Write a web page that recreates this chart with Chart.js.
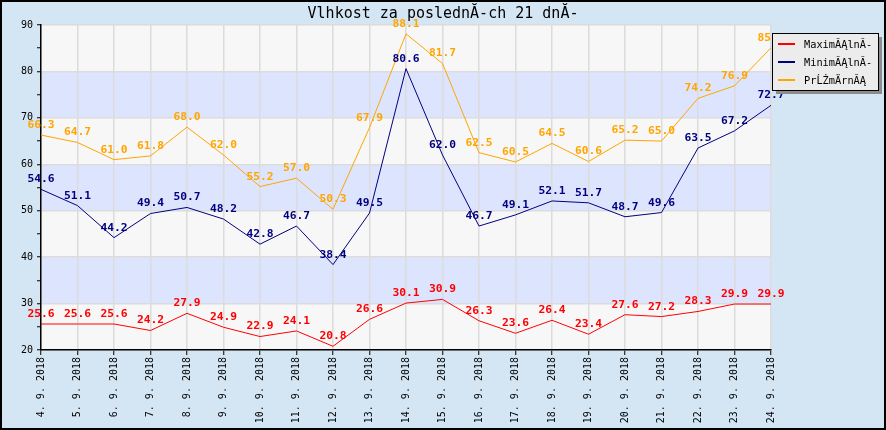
<!DOCTYPE html>
<html>
<head>
<meta charset="utf-8">
<script src="https://cdn.jsdelivr.net/npm/chart.js@4.4.1/dist/chart.umd.min.js"></script>
<style>
  html, body { margin: 0; padding: 0; background: #d4e6f4; }
  canvas { display: block; }
</style>
</head>
<body>
<canvas id="chart" width="886" height="430"></canvas>
<script>
// data
const title = 'Vlhkost za poslednĂ-ch 21 dnĂ-';
const days = ['4. 9. 2018', '5. 9. 2018', '6. 9. 2018', '7. 9. 2018', '8. 9. 2018',
    '9. 9. 2018', '10. 9. 2018', '11. 9. 2018', '12. 9. 2018', '13. 9. 2018',
    '14. 9. 2018', '15. 9. 2018', '16. 9. 2018', '17. 9. 2018', '18. 9. 2018',
    '19. 9. 2018', '20. 9. 2018', '21. 9. 2018', '22. 9. 2018', '23. 9. 2018',
    '24. 9. 2018'];
const maxValues = [25.6, 25.6, 25.6, 24.2, 27.9, 24.9, 22.9, 24.1, 20.8, 26.6, 30.1,
    30.9, 26.3, 23.6, 26.4, 23.4, 27.6, 27.2, 28.3, 29.9, 29.9];
const minValues = [54.6, 51.1, 44.2, 49.4, 50.7, 48.2, 42.8, 46.7, 38.4, 49.5, 80.6,
    62.0, 46.7, 49.1, 52.1, 51.7, 48.7, 49.6, 63.5, 67.2, 72.7];
const avgValues = [66.3, 64.7, 61.0, 61.8, 68.0, 62.0, 55.2, 57.0, 50.3, 67.9, 88.1,
    81.7, 62.5, 60.5, 64.5, 60.6, 65.2, 65.0, 74.2, 76.9, 85.1];
const seriesNames = ['MaximĂĄlnĂ-', 'MinimĂĄlnĂ-', 'PrĹŻmÄrnĂĄ'];
const yMin = 20;
const yMax = 90;

const MONO = '"DejaVu Sans Mono", monospace';

// page background, border and striped plot area
const backdrop = {
    id: 'backdrop',
    beforeDraw(chart) {
        const ctx = chart.ctx;
        const area = chart.chartArea;
        const y = chart.scales.y;
        ctx.save();
        ctx.fillStyle = '#d4e6f4';
        ctx.fillRect(0, 0, chart.width, chart.height);
        for (let v = yMin; v < yMax; v += 10) {
            const top = y.getPixelForValue(v + 10);
            const bottom = y.getPixelForValue(v);
            ctx.fillStyle = ((v - yMin) / 10) % 2 === 0 ? '#f7f7f7' : '#dde5fe';
            ctx.fillRect(area.left, top, area.right - area.left, bottom - top);
        }
        ctx.restore();
    },
    afterDraw(chart) {
        const ctx = chart.ctx;
        ctx.save();
        ctx.strokeStyle = '#000';
        ctx.lineWidth = 2;
        ctx.strokeRect(1, 1, chart.width - 2, chart.height - 2);

        ctx.fillStyle = '#000';
        ctx.font = '15px ' + MONO;
        ctx.textAlign = 'center';
        ctx.textBaseline = 'middle';
        ctx.fillText(title, 443, 14);
        ctx.restore();
    }
};

// value labels above every point
const pointLabels = {
    id: 'pointLabels',
    afterDatasetsDraw(chart) {
        const ctx = chart.ctx;
        ctx.save();
        ctx.font = 'bold 11.3px ' + MONO;
        ctx.textAlign = 'center';
        ctx.textBaseline = 'middle';
        chart.data.datasets.forEach((ds, i) => {
            const meta = chart.getDatasetMeta(i);
            ctx.fillStyle = ds.borderColor;
            meta.data.forEach((pt, j) => {
                ctx.fillText(ds.data[j].toFixed(1), pt.x, pt.y - 10);
            });
        });
        ctx.restore();
    }
};

// boxed legend sitting over the top right corner
const boxLegend = {
    id: 'boxLegend',
    afterDraw(chart) {
        const ctx = chart.ctx;
        const x = 772, y = 33, w = 106, h = 57;
        ctx.save();
        ctx.fillStyle = '#8c8c8c';
        ctx.fillRect(x + 4, y + 4, w, h);
        ctx.fillStyle = '#ececec';
        ctx.fillRect(x, y, w, h);
        ctx.strokeStyle = '#000';
        ctx.lineWidth = 1;
        ctx.strokeRect(x + 0.5, y + 0.5, w, h);
        ctx.font = '10.3px ' + MONO;
        ctx.textBaseline = 'middle';
        chart.data.datasets.forEach((ds, i) => {
            const rowY = y + 11 + i * 18;
            ctx.strokeStyle = ds.borderColor;
            ctx.lineWidth = 2;
            ctx.beginPath();
            ctx.moveTo(x + 6, rowY);
            ctx.lineTo(x + 23, rowY);
            ctx.stroke();
            ctx.fillStyle = '#000';
            ctx.fillText(ds.label, x + 32, rowY + 1);
        });
        ctx.restore();
    }
};

const series = [
    { label: seriesNames[0], data: maxValues, color: '#ff0000' },
    { label: seriesNames[1], data: minValues, color: '#000080' },
    { label: seriesNames[2], data: avgValues, color: '#ffa500' }
];

new Chart(document.getElementById('chart'), {
    type: 'line',
    data: {
        labels: days,
        datasets: series.map(s => ({
            label: s.label,
            data: s.data,
            borderColor: s.color,
            backgroundColor: s.color,
            borderWidth: 1,
            pointRadius: 0,
            tension: 0,
            fill: false
        }))
    },
    options: {
        responsive: false,
        animation: false,
        devicePixelRatio: 1,
        layout: { padding: { top: 25, right: 115, left: 0, bottom: 0 } },
        plugins: {
            legend: { display: false },
            title: { display: false },
            tooltip: { enabled: false }
        },
        scales: {
            x: {
                offset: false,
                afterFit(scale) {
                    scale.height = 80;
                    scale.paddingLeft = 0;
                    scale.paddingRight = 0;
                },
                grid: {
                    color: '#dcdcdc',
                    lineWidth: 1.5,
                    tickColor: '#000',
                    tickLength: 5,
                    tickWidth: 1
                },
                border: { color: '#000', width: 1.5 },
                ticks: {
                    autoSkip: false,
                    minRotation: 90,
                    maxRotation: 90,
                    padding: 2,
                    color: '#000',
                    font: { family: MONO, size: 10 }
                }
            },
            y: {
                min: yMin,
                max: yMax,
                afterFit(scale) {
                    scale.width = 41;
                    scale.paddingTop = 0;
                    scale.paddingBottom = 0;
                },
                grid: {
                    color: ctx => ctx.tick && ctx.tick.value % 10 === 0 ? '#dcdcdc' : 'rgba(0,0,0,0)',
                    lineWidth: 1.5,
                    tickColor: '#000',
                    tickLength: 4,
                    tickWidth: 1
                },
                border: { color: '#000', width: 1.5 },
                ticks: {
                    stepSize: 5,
                    padding: 4,
                    color: '#000',
                    font: { family: MONO, size: 10 },
                    callback: v => v % 10 === 0 ? String(v) : ''
                }
            }
        }
    },
    plugins: [backdrop, pointLabels, boxLegend]
});
</script>
</body>
</html>
